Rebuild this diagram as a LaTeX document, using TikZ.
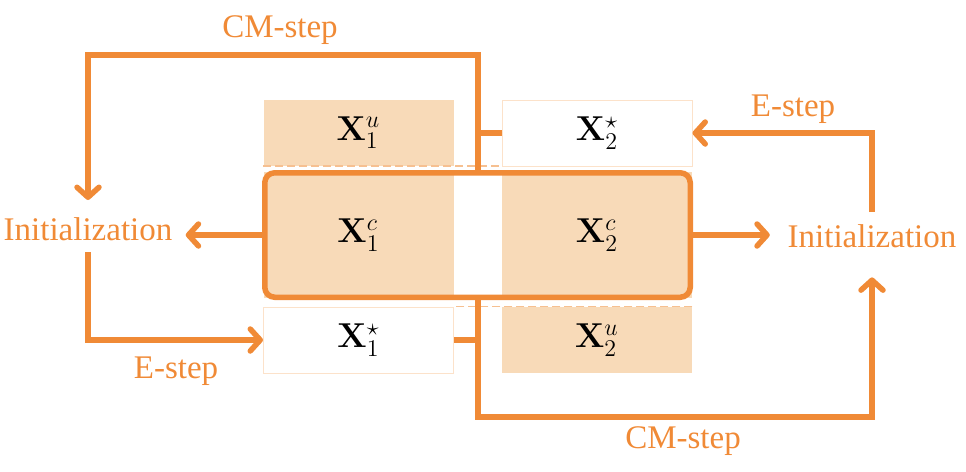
\documentclass[tikz,border=0pt]{standalone}
\usepackage[no-math]{fontspec}
\newfontfamily\labfont{Liberation Serif}
\usetikzlibrary{arrows.meta,calc}
\definecolor{emor}{RGB}{240,138,54}
\definecolor{emfill}{RGB}{248,218,184}
\definecolor{emline}{RGB}{252,226,202}
\definecolor{emdash}{RGB}{246,192,145}
\tikzset{
  lbl/.style={text=emor, font=\labfont\fontsize{16.5pt}{20pt}\selectfont, inner sep=0pt, anchor=base},
  initnode/.style={lbl, text height=11.3pt, text depth=0pt},
  mat/.style={font=\fontsize{16.5pt}{20pt}\selectfont, inner sep=0pt, text=black},
  filledbox/.style={mat, fill=emfill, minimum width=95pt, minimum height=33pt},
  whitebox/.style={mat, fill=white, draw=emline, line width=0.5pt, minimum width=95pt, minimum height=33pt},
  bigbox/.style={draw=emor, line width=2.75pt, rounded corners=5pt, minimum width=212.75pt, minimum height=62.25pt, inner sep=0pt},
  conn/.style={draw=emor, line width=2.75pt, line join=miter},
  arr/.style={conn, -{Straight Barb[length=5pt,width=11pt,line cap=round,line join=round]}},
  dashline/.style={draw=emdash, line width=0.8pt, dash pattern=on 4pt off 2pt},
}
\begin{document}
\begin{tikzpicture}[x=0.5pt,y=-0.5pt]
\useasboundingbox (0,0) rectangle (966,472);

% data blocks
\node[filledbox] (x1u) at (358.5,132.5) {$\mathbf{X}_1^u$};
\node[whitebox]  (x2s) at (597,133) {$\mathbf{X}_2^\star$};
\node[filledbox, minimum height=63pt] (x1c) at (358.5,235) {$\mathbf{X}_1^c$};
\node[filledbox, minimum height=63pt] (x2c) at (597,235) {$\mathbf{X}_2^c$};
\node[whitebox]  (x1s) at (358.5,340) {$\mathbf{X}_1^\star$};
\node[filledbox] (x2u) at (597,340) {$\mathbf{X}_2^u$};

% dashed separators
\draw[dashline] (x1u.south west) -- (x1u.south west -| x2s.west);
\draw[dashline] (x2u.north east) -- (x2u.north east -| x1s.east);

% combined block
\node[bigbox] (big) at (477.5,235) {};

% labels
\node[initnode] (initL) at (88,240) {Initialization};
\node[initnode] (initR) at (872,247) {Initialization};
\node[lbl] (cmTop) at (280,37) {CM-step};
\node[lbl] (cmBot) at (683,448) {CM-step};
\node[lbl] (eLeft) at (176,378) {E-step};
\node[lbl] (eRight) at (793,116) {E-step};

% helper coordinates
\coordinate (jt) at (478,133);
\coordinate (tc) at (478,55);
\coordinate (jb) at (478,340);
\coordinate (bc) at (478,417);
\coordinate (iLt) at ([yshift=8.5pt]initL.north);
\coordinate (iLb) at ([yshift=-6pt]initL.south);
\coordinate (iLe) at ([xshift=6.5pt]initL.east);
\coordinate (iRt) at ([yshift=6pt]initR.north);
\coordinate (iRb) at ([yshift=-15pt]initR.south);
\coordinate (iRw) at ([xshift=-8.75pt]initR.west);

% connectors
\draw[arr] (big.north -| jt) -- (tc) -| (iLt);
\draw[conn] (x2s.west) -- (jt);
\draw[arr] (big.west) -- (big.west -| iLe);
\draw[arr] (iLb) |- (x1s.west);
\draw[arr] (big.south -| jb) -- (bc) -| (iRb);
\draw[conn] (x1s.east) -- (jb);
\draw[arr] (big.east) -- (big.east -| iRw);
\draw[arr] (iRt) |- (x2s.east);
\end{tikzpicture}
\end{document}
